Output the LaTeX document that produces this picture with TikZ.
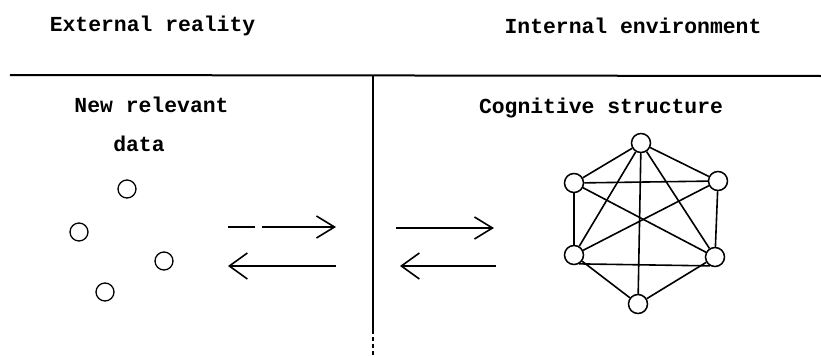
\documentclass[tikz,border=0pt]{standalone}
\usepackage{fontspec}
\setmonofont{Liberation Mono}
\usetikzlibrary{arrows.meta}
\begin{document}
\begin{tikzpicture}[x=1pt,y=-1pt,
  lbl/.style={font=\fontsize{21.4}{25}\selectfont\ttfamily\bfseries, anchor=base, inner sep=0pt},
  dot/.style={circle, draw, line width=1.3pt, minimum size=18pt, inner sep=0pt},
  gnode/.style={circle, draw, line width=1.5pt, minimum size=19pt, inner sep=0pt},
  edge/.style={line width=1.6pt},
  rule/.style={line width=2pt},
  flow/.style={line width=1.6pt},
  headR/.style={-{Straight Barb[length=18pt,width=22pt,line width=1.6pt]}},
  headL/.style={-{Straight Barb[length=18pt,width=26pt,line width=1.6pt]}}]
\useasboundingbox (0,0) rectangle (821,356);
% titles
\node[lbl] (ext) at (152.5,31) {External reality};
\node[lbl] (int) at (633,33) {Internal environment};
\node[lbl] (new) at (151.5,112) {New relevant};
\node[lbl] (dat) at (139,151) {data};
\node[lbl] (cog) at (601,113) {Cognitive structure};
% rules
\coordinate (hl) at (10,75);
\coordinate (hr) at (821,76);
\coordinate (vt) at (373,76);
\coordinate (vm) at (373,330);
\coordinate (vb) at (373,356);
\draw[rule] (hl) -- (hr);
\draw[line width=1.3pt] (vt) -- (vm);
\draw[line width=1.3pt, dash pattern=on 4pt off 3pt] (vm) -- (vb);
% data circles
\node[dot] (d1) at (127,189) {};
\node[dot] (d2) at (79,232) {};
\node[dot] (d3) at (164,261) {};
\node[dot] (d4) at (105,292) {};
% arrows left
\coordinate (a1s) at (228,227);
\coordinate (a1e) at (336,227);
\coordinate (a2s) at (336,266);
\coordinate (a2e) at (228,266);
\draw[flow, headR, dash pattern=on 27pt off 7pt on 200pt] (a1s) -- (a1e);
\draw[flow, headL] (a2s) -- (a2e);
% arrows right
\coordinate (b1s) at (396,228);
\coordinate (b1e) at (494,228);
\coordinate (b2s) at (496,266);
\coordinate (b2e) at (400,266);
\draw[flow, headR] (b1s) -- (b1e);
\draw[flow, headL] (b2s) -- (b2e);
% cognitive structure graph
\node[gnode] (top) at (641,143) {};
\node[gnode] (ul) at (574,183) {};
\node[gnode] (ur) at (718,181) {};
\node[gnode] (ll) at (574,255) {};
\node[gnode] (lr) at (715,257) {};
\node[gnode] (bot) at (638,304) {};
\draw[edge] (top) -- (ul);
\draw[edge] (top) -- (ur);
\draw[edge] (ul) -- (ur);
\draw[edge] (ul) -- (ll);
\draw[edge] (ur) -- (lr);
\draw[edge] (ll.-60) -- (lr.-120);
\draw[edge] (ll) -- (bot);
\draw[edge] (lr) -- (bot);
\draw[edge] (top) -- (bot);
\draw[edge] (top) -- (ll);
\draw[edge] (top) -- (lr);
\draw[edge] (ul) -- (lr);
\draw[edge] (ur) -- (ll);
\end{tikzpicture}
\end{document}
